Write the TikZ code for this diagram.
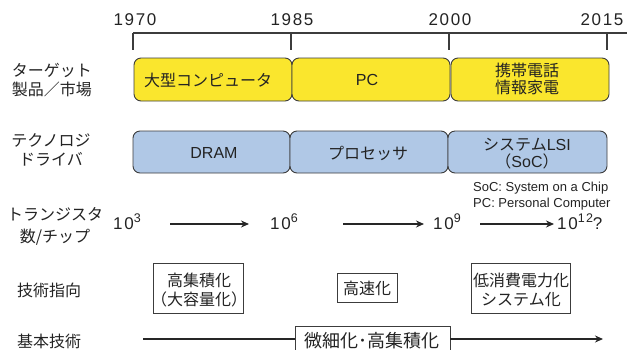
\documentclass[tikz,border=0pt]{standalone}
\usepackage{fontspec}
\usetikzlibrary{arrows.meta}
\newfontfamily\jpfont{Noto Sans CJK JP}
\newfontfamily\latfont{Liberation Sans}
\newfontfamily\numfont[LetterSpace=10]{Liberation Sans}
\newcommand{\supnum}[1]{\raisebox{6.5pt}{\fontsize{12.5}{14}\selectfont #1}}
\definecolor{boxyellow}{RGB}{250,230,45}
\definecolor{boxblue}{RGB}{176,200,230}
\definecolor{edgegray}{RGB}{60,60,60}
\definecolor{txt}{RGB}{35,35,35}
\begin{document}
\begin{tikzpicture}[x=1pt,y=-1pt,
  every node/.style={text=txt, inner sep=0pt},
  jp/.style={font=\jpfont\fontsize{16}{19}\selectfont, align=center},
  lat/.style={font=\latfont\fontsize{16}{19}\selectfont},
  num/.style={font=\numfont\fontsize{17}{19}\selectfont},
  note/.style={font=\latfont\fontsize{13}{16}\selectfont, anchor=west},
  ybox/.style={draw=edgegray, line width=0.9pt, fill=boxyellow, rounded corners=7pt, minimum height=43pt},
  bbox/.style={draw=edgegray, line width=0.9pt, fill=boxblue, rounded corners=7pt, minimum height=42pt},
  plainbox/.style={draw=edgegray, line width=0.9pt, fill=white},
  axis/.style={draw=edgegray, line width=1.1pt},
  arr/.style={draw=black!85, line width=2pt, -{Stealth[length=8pt,width=7pt]}}
]
\useasboundingbox (0,0) rectangle (634,349);
\clip (0,0) rectangle (634,349);

% timeline
\coordinate (tl0) at (133,33);
\coordinate (tl1) at (627,33);
\draw[axis] (tl0) -- (tl1);
\foreach \xx/\nm in {133/a,291/b,449/c,607/d}{
  \coordinate (tk\nm) at (\xx,33);
  \coordinate (tb\nm) at (\xx,50);
  \draw[axis] (tk\nm) -- (tb\nm);
}
\node[num] (y1970) at (135,20) {1970};
\node[num] (y1985) at (292,20) {1985};
\node[num] (y2000) at (450,20) {2000};
\node[num] (y2015) at (602,20) {2015};

% row labels
\node[jp] (lab1) at (52,80) {ターゲット\\製品／市場};
\node[jp] (lab2) at (51,150) {テクノロジ\\ドライバ};
\node[jp, font=\jpfont\fontsize{16}{22}\selectfont] (lab3) at (55,226) {トランジスタ\\数/チップ};
\node[jp] (lab4) at (49,290) {技術指向};
\node[jp] (lab5) at (49,341) {基本技術};

% yellow boxes
\node[ybox, minimum width=158pt] (y1) at (213,79.5) {};
\node[ybox, minimum width=158pt] (y2) at (371,79.5) {};
\node[ybox, minimum width=158pt] (y3) at (530,79.5) {};
\node[jp] (y1t) at (208,80) {大型コンピュータ};
\node[lat] (y2t) at (367,80) {PC};
\node[jp, font=\jpfont\fontsize{16}{17.5}\selectfont] (y3t) at (527,79) {携帯電話\\情報家電};

% blue boxes
\node[bbox, minimum width=157pt] (b1) at (211.5,152) {};
\node[bbox, minimum width=158pt] (b2) at (369,152) {};
\node[bbox, minimum width=159pt] (b3) at (527.5,152) {};
\node[lat] (b1t) at (214,153) {DRAM};
\node[jp] (b2t) at (368,153) {プロセッサ};
\node[jp, font=\jpfont\fontsize{16}{17}\selectfont] (b3t) at (527,154) {システム{\latfont LSI}\\（{\latfont SoC}）};

% notes
\node[note] (n1) at (473,188) {SoC: System on a Chip};
\node[note] (n2) at (473,204) {PC: Personal Computer};

% transistor counts
\node[num, anchor=base west] (c3) at (113,229) {10\supnum{3}};
\node[num, anchor=base west] (c6) at (270,229) {10\supnum{6}};
\node[num, anchor=base west] (c9) at (433,229) {10\supnum{9}};
\node[num, anchor=base west] (c12) at (557,229) {10\supnum{12}?};
\coordinate (a1s) at (170,224); \coordinate (a1e) at (249,224);
\coordinate (a2s) at (343,224); \coordinate (a2e) at (424,224);
\coordinate (a3s) at (480,224); \coordinate (a3e) at (554,224);
\draw[arr] (a1s) -- (a1e);
\draw[arr] (a2s) -- (a2e);
\draw[arr] (a3s) -- (a3e);

% technology orientation boxes
\node[plainbox, minimum width=90pt, minimum height=50pt] (o1) at (198,288) {};
\node[jp] (o1t) at (199,290) {高集積化\\（大容量化）};
\node[plainbox, minimum width=60pt, minimum height=29pt] (o2) at (367,287.5) {};
\node[jp] (o2t) at (367,288) {高速化};
\node[plainbox, minimum width=99pt, minimum height=50pt] (o3) at (520.5,288) {};
\node[jp] (o3t) at (521,290) {低消費電力化\\システム化};

% basic technology
\node[plainbox, minimum width=155pt, minimum height=34pt] (bt) at (372.5,343) {};
\node[jp, font=\jpfont\fontsize{18}{20}\selectfont] (btt) at (372,341) {微細化･高集積化};
\coordinate (bl0) at (143,339);
\coordinate (bl1) at (603,339);
\draw[draw=black!85, line width=2pt] (bl0) -- (bl0 -| bt.west);
\draw[arr] (bl0 -| bt.east) -- (bl1);
\end{tikzpicture}
\end{document}
